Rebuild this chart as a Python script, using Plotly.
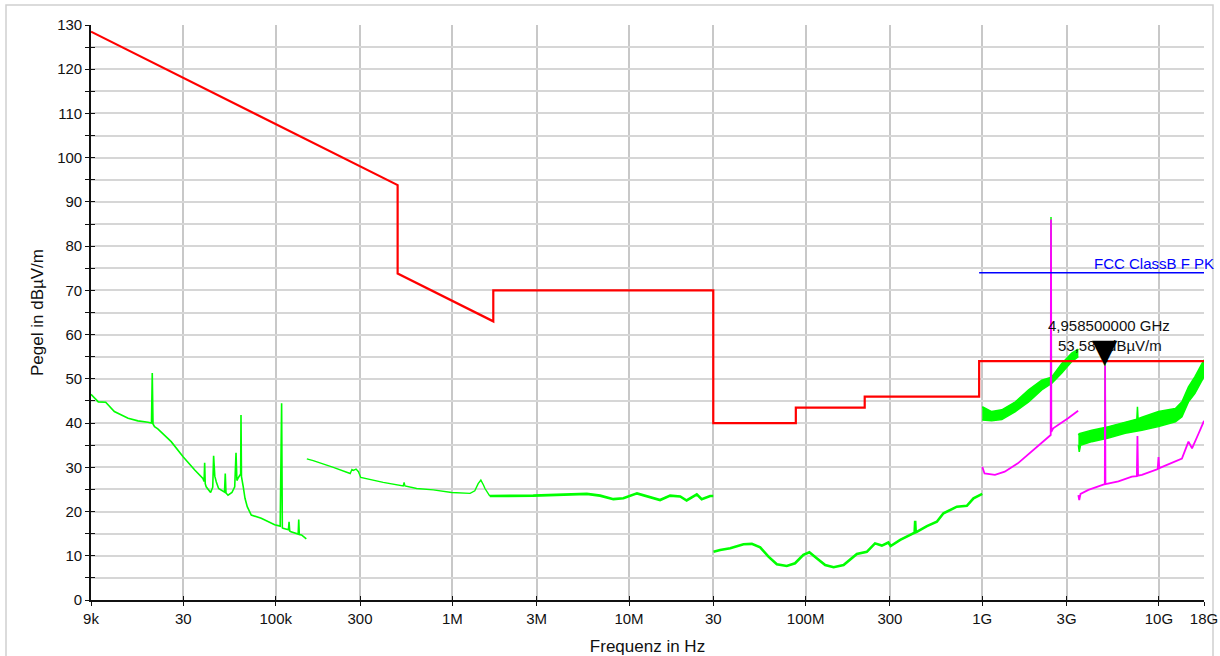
import plotly.graph_objects as go
import math

# ---------------- data ----------------
x_tick_vals = [9e3, 3e4, 1e5, 3e5, 1e6, 3e6, 1e7, 3e7, 1e8, 3e8, 1e9, 3e9, 1e10, 1.8e10]
x_tick_text = ["9k", "30", "100k", "300", "1M", "3M", "10M", "30", "100M", "300", "1G", "3G", "10G", "18G"]
y_tick_vals = list(range(0, 131, 5))
y_tick_text = [str(v) if v % 10 == 0 else "" for v in y_tick_vals]

# limit line (red)
limit_f = [9e3, 490e3, 490e3, 1.705e6, 1.705e6, 30e6, 30e6, 88e6, 88e6, 216e6, 216e6, 960e6, 960e6, 18e9]
limit_db = [128.5, 93.8, 73.8, 63.0, 70.0, 70.0, 40.0, 40.0, 43.5, 43.5, 46.0, 46.0, 54.0, 54.0]

# FCC ClassB F PK (blue)
pk_f = [960e6, 18e9]
pk_db = [74.0, 74.0]

# green, 9k-150k
g1_f = [9.0e3, 9.4e3, 9.9e3, 10.9e3, 12.2e3, 14.6e3, 16.6e3, 18.9e3, 19.8e3, 20.0e3, 20.2e3, 20.6e3,
        21.5e3, 25.6e3, 29.9e3, 34.8e3, 38.7e3, 39.3e3, 39.6e3, 39.9e3, 40.4e3, 42.8e3, 44.0e3, 44.5e3,
        45.2e3, 46.1e3, 47.5e3, 51.3e3, 51.8e3, 52.3e3, 53.7e3, 56.5e3, 58.6e3, 59.6e3, 60.3e3, 61.1e3,
        63.3e3, 63.6e3, 64.0e3, 65.5e3, 67.0e3, 69.0e3, 72.7e3, 82.8e3, 98.6e3, 106e3, 108e3, 109e3,
        110e3, 118e3, 119e3, 120e3, 122e3, 134e3, 135e3, 136e3, 140e3, 149e3]
g1_db = [46.5, 45.8, 44.8, 44.7, 42.6, 41.1, 40.5, 40.2, 40.0, 51.3, 39.8, 39.2,
         38.7, 35.8, 32.4, 29.4, 27.5, 26.8, 31.0, 26.3, 25.6, 24.3, 25.5, 32.6,
         28.0, 26.7, 25.2, 24.4, 28.6, 24.2, 23.7, 24.3, 25.6, 33.3, 27.0, 27.5,
         28.5, 41.8, 27.9, 25.6, 23.0, 21.1, 19.2, 18.5, 17.0, 16.7, 44.5, 16.3,
         16.2, 15.9, 17.7, 15.6, 15.4, 14.9, 18.2, 14.8, 14.7, 13.8]

# green, 150k-1.63M (thin part)
g2a_f = [150e3, 163e3, 212e3, 264e3, 270e3, 275e3, 285e3, 294e3, 303e3, 406e3, 527e3, 533e3, 539e3,
         628e3, 780e3, 991e3, 1.26e6, 1.34e6, 1.40e6, 1.45e6, 1.50e6, 1.53e6, 1.63e6]
g2a_db = [31.9, 31.5, 30.0, 28.6, 29.5, 29.3, 29.6, 29.0, 27.7, 26.6, 25.8, 26.6, 25.8,
          25.2, 24.9, 24.3, 24.1, 24.7, 26.3, 27.1, 26.0, 25.2, 23.5]
# green, 1.63M-30M
g2b_f = [1.63e6, 2.87e6, 5.77e6, 6.86e6, 8.16e6, 9.29e6, 11.1e6, 12.6e6, 15.0e6, 17.1e6, 19.5e6,
         21.2e6, 24.2e6, 25.8e6, 28.8e6, 30e6]
g2b_db = [23.5, 23.6, 24.0, 23.6, 22.8, 23.0, 24.1, 23.5, 22.6, 23.6, 23.4,
          22.5, 23.9, 22.8, 23.5, 23.5]

# green, 30M-1G
g3_f = [30.1e6, 32.8e6, 37.4e6, 44.5e6, 49.6e6, 55.3e6, 61.6e6, 68.7e6, 78.2e6, 87.1e6, 97.1e6, 105e6,
        116e6, 129e6, 144e6, 164e6, 195e6, 222e6, 247e6, 270e6, 294e6, 303e6, 343e6, 391e6, 414e6,
        417e6, 420e6, 426e6, 486e6, 553e6, 603e6, 718e6, 818e6, 892e6, 1.0e9]
g3_db = [10.9, 11.3, 11.7, 12.6, 12.7, 11.9, 9.8, 8.1, 7.7, 8.3, 10.2, 10.8,
         9.4, 7.9, 7.4, 7.9, 10.4, 10.9, 12.8, 12.3, 13.0, 12.2, 13.6, 14.7, 15.2,
         17.9, 15.3, 15.4, 16.7, 17.7, 19.6, 21.1, 21.3, 23.0, 24.0]

# green, 1G-3.5G band (upper / lower envelope)
g4u_f = [1.0e9, 1.13e9, 1.29e9, 1.54e9, 1.83e9, 2.17e9, 2.44e9, 2.45e9, 2.46e9, 2.48e9, 2.82e9, 3.21e9, 3.5e9]
g4u_db = [43.7, 42.6, 43.0, 44.8, 47.5, 49.7, 50.3, 86.6, 50.4, 50.5, 53.5, 55.8, 56.7]
g4l_f = [1.0e9, 1.13e9, 1.29e9, 1.54e9, 1.83e9, 2.17e9, 2.48e9, 2.82e9, 3.21e9, 3.5e9]
g4l_db = [40.7, 40.5, 40.8, 42.6, 44.8, 47.5, 49.0, 51.3, 53.9, 55.0]

# green, 3.5G-18G band (upper / lower envelope)
g5u_f = [3.5e9, 3.54e9, 4.17e9, 4.94e9, 4.9585e9, 4.98e9, 5.18e9, 6.44e9, 7.5e9, 7.56e9, 7.62e9, 8.01e9,
         9.95e9, 12.4e9, 13.5e9, 14.7e9, 16.0e9, 18e9]
g5u_db = [37.3, 37.6, 38.4, 39.0, 53.58, 39.0, 39.2, 40.3, 40.9, 43.7, 41.0, 41.3,
          42.6, 43.3, 44.8, 48.2, 50.5, 54.3]
g5l_f = [3.5e9, 3.54e9, 3.6e9, 4.17e9, 5.18e9, 6.44e9, 8.01e9, 9.95e9, 12.4e9, 13.5e9, 14.7e9, 16.0e9, 18e9]
g5l_db = [35.0, 33.5, 35.0, 35.8, 36.6, 37.7, 38.4, 39.2, 40.3, 41.4, 44.8, 46.7, 50.5]

# magenta, 1G-3.5G
m1_f = [1.0e9, 1.01e9, 1.03e9, 1.18e9, 1.34e9, 1.59e9, 1.89e9, 2.17e9, 2.44e9, 2.45e9, 2.46e9, 2.52e9,
        2.81e9, 3.06e9, 3.49e9]
m1_db = [30.1, 29.6, 28.6, 28.3, 29.0, 30.9, 33.5, 35.4, 37.3, 86.0, 38.0, 38.8,
         40.0, 41.1, 42.8]

# magenta, 3.5G-18G
m2_f = [3.5e9, 3.54e9, 3.6e9, 3.99e9, 4.94e9, 4.9585e9, 4.98e9, 5.90e9, 7.03e9, 7.5e9, 7.56e9, 7.62e9,
        8.01e9, 9.85e9, 9.95e9, 10.05e9, 12.4e9, 13.5e9, 14.7e9, 15.4e9, 16.8e9, 18e9]
m2_db = [23.7, 22.6, 24.0, 24.9, 26.2, 53.0, 26.2, 26.8, 27.9, 28.0, 37.1, 28.1,
         28.3, 29.6, 32.3, 29.8, 31.3, 32.0, 35.8, 34.3, 37.7, 40.5]

marker_f = 4.9585e9
marker_db = 53.58
marker_text_f = "4,958500000 GHz"
marker_text_db = "53,580 dBµV/m"
limit_name = "FCC ClassB F PK"

# ---------------- figure ----------------
GREEN = "#00ff00"
MAG = "#ff00ff"
RED = "#ff0000"
BLUE = "#0000ff"
FONT = "Arial, Liberation Sans, sans-serif"

fig = go.Figure()

def line(xs, ys, color, width, **kw):
    fig.add_trace(go.Scatter(x=xs, y=ys, mode="lines", line=dict(color=color, width=width),
                             showlegend=False, hoverinfo="skip", **kw))

line(g1_f, g1_db, GREEN, 1.6)
line(g2a_f, g2a_db, GREEN, 1.4)
line(g2b_f, g2b_db, GREEN, 2.6)
line(g3_f, g3_db, GREEN, 2.6)
line(g4l_f, g4l_db, GREEN, 1.5)
line(g4u_f, g4u_db, GREEN, 1.5, fill="tonexty", fillcolor=GREEN)
line(g5l_f, g5l_db, GREEN, 1.5)
line(g5u_f, g5u_db, GREEN, 1.5, fill="tonexty", fillcolor=GREEN)
line(m1_f, m1_db, MAG, 1.8)
line(m2_f, m2_db, MAG, 1.8)
line(limit_f, limit_db, RED, 2.2, xaxis="x2", yaxis="y2")
line(pk_f, pk_db, BLUE, 1.6)

xr = [math.log10(9e3), math.log10(18e9)]
yr = [0, 130]

fig.update_layout(
    width=1220, height=656,
    margin=dict(l=91, r=16, t=25, b=56, autoexpand=False),
    paper_bgcolor="white", plot_bgcolor="white",
    font=dict(family=FONT, size=15, color="#111111"),
    xaxis=dict(type="log", range=xr, tickvals=x_tick_vals, ticktext=x_tick_text,
               showgrid=True, gridcolor="#c8c8c8", gridwidth=1.5,
               showline=True, linecolor="#111111", linewidth=1.6,
               ticks="outside", ticklen=4, tickwidth=1.4, tickcolor="#111111",
               zeroline=False,
               title=dict(text="Frequenz in Hz", font=dict(size=17), standoff=16)),
    yaxis=dict(range=yr, tickvals=y_tick_vals, ticktext=y_tick_text,
               showgrid=True, gridcolor="#d6d6d6", gridwidth=1.8,
               showline=True, linecolor="#111111", linewidth=1.6,
               ticks="outside", ticklen=4, tickwidth=1.4, tickcolor="#111111",
               zeroline=False,
               title=dict(text="Pegel in dBµV/m", font=dict(size=17), standoff=9)),
    xaxis2=dict(type="log", range=xr, overlaying="x", anchor="y2", side="bottom",
                tickvals=x_tick_vals, showticklabels=False, showgrid=False, showline=False,
                ticks="inside", ticklen=4, tickwidth=1.4, tickcolor="#111111", zeroline=False),
    yaxis2=dict(range=yr, overlaying="y", anchor="x2", side="left",
                tickvals=y_tick_vals, showticklabels=False, showgrid=False, showline=False,
                ticks="inside", ticklen=4, tickwidth=1.4, tickcolor="#111111", zeroline=False),
    shapes=[dict(type="rect", xref="paper", yref="paper",
                 x0=(6 - 91) / 1113, x1=(1213 - 91) / 1113,
                 y0=(600 - 720) / 575, y1=(600 - 5) / 575,
                 line=dict(color="#d0d0d0", width=1.5), fillcolor="rgba(0,0,0,0)", layer="below")],
    annotations=[
        dict(x=math.log10(18e9), y=74, xref="x", yref="y", text=limit_name, showarrow=False,
             xanchor="right", yanchor="bottom", xshift=12, yshift=-1,
             font=dict(color=BLUE, size=15)),
        dict(x=math.log10(marker_f), y=marker_db, xref="x", yref="y", text=marker_text_f,
             showarrow=False, xanchor="center", yanchor="middle", xshift=4, yshift=38,
             font=dict(color="#111111", size=15)),
        dict(x=math.log10(marker_f), y=marker_db, xref="x", yref="y", text=marker_text_db,
             showarrow=False, xanchor="center", yanchor="middle", xshift=5, yshift=18,
             font=dict(color="#111111", size=15)),
        dict(x=math.log10(marker_f), y=marker_db, xref="x", yref="y", text="▼",
             showarrow=False, xanchor="center", yanchor="bottom", yshift=-9,
             font=dict(color="black", size=33, family="DejaVu Sans")),
    ],
)

fig.write_html("out.html", config={"displayModeBar": False},
               post_script="document.body.style.margin='0px';document.body.style.overflow='hidden';")
